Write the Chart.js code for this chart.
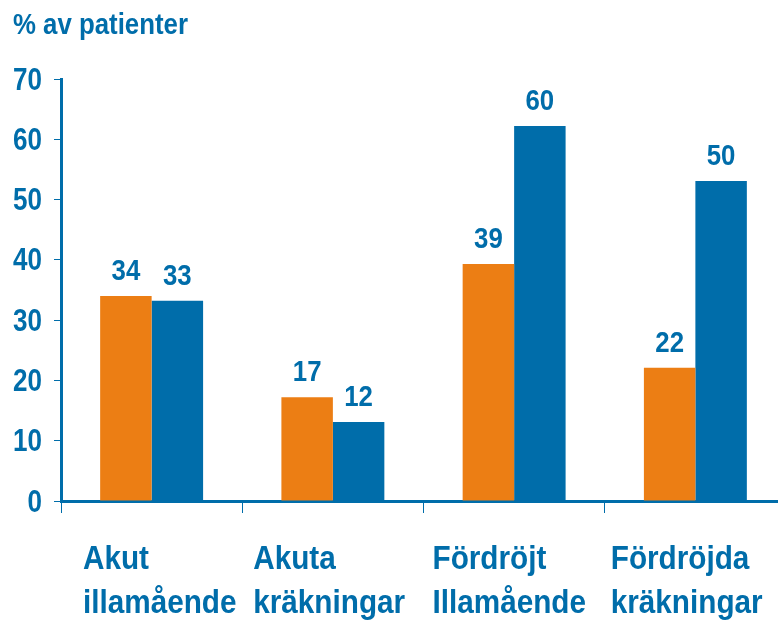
<!DOCTYPE html>
<html>
<head>
<meta charset="utf-8">
<script src="https://cdn.jsdelivr.net/npm/chart.js@4"></script>
<style>
  html, body { margin: 0; padding: 0; background: #fff; overflow: hidden; }
</style>
</head>
<body>
<canvas id="chart" width="790" height="623"></canvas>
<script>
const categories = [
  ['Akut', 'illamående'],
  ['Akuta', 'kräkningar'],
  ['Fördröjt', 'Illamående'],
  ['Fördröjda', 'kräkningar']
];
// bar heights as drawn, and the numbers printed above them
const orangeValues = [34, 17.2, 39.3, 22.1];
const blueValues = [33.2, 13.1, 62.2, 53.1];
const orangeLabels = ['34', '17', '39', '22'];
const blueLabels = ['33', '12', '60', '50'];
const yTicks = [0, 10, 20, 30, 40, 50, 60, 70];
const titleText = '% av patienter';

const BLUE = '#006daa';
const ORANGE = '#ec7e14';
const FONT = "'Liberation Sans', Arial, sans-serif";
// category label text boxes sit a little unevenly in the original
const labelInset = [22, 11, 9, 6];

// draw bold text squeezed horizontally (the original uses a narrow face)
function narrowText(ctx, text, x, y, size, align, squeeze) {
  ctx.save();
  ctx.font = 'bold ' + size + 'px ' + FONT;
  ctx.fillStyle = BLUE;
  ctx.textBaseline = 'alphabetic';
  ctx.textAlign = align;
  ctx.translate(x, y);
  ctx.scale(squeeze, 1);
  ctx.fillText(text, 0, 0);
  ctx.restore();
}

const textLayer = {
  id: 'textLayer',
  afterDraw(chart) {
    const ctx = chart.ctx;
    const x = chart.scales.x;
    const y = chart.scales.y;
    const area = chart.chartArea;

    narrowText(ctx, titleText, 13, 34, 30, 'left', 0.86);

    yTicks.forEach(v => {
      narrowText(ctx, String(v), area.left - 19, y.getPixelForValue(v) + 10.5, 31, 'right', 0.84);
    });

    [orangeLabels, blueLabels].forEach((arr, di) => {
      chart.getDatasetMeta(di).data.forEach((bar, i) => {
        narrowText(ctx, arr[i], bar.x, bar.y - 16, 30, 'center', 0.86);
      });
    });

    const step = x.getPixelForValue(1) - x.getPixelForValue(0);
    categories.forEach((lines, i) => {
      const left = x.getPixelForValue(i) - step / 2 + labelInset[i];
      lines.forEach((t, j) => narrowText(ctx, t, left, 569 + j * 44, 33, 'left', 0.9));
    });
  }
};

new Chart(document.getElementById('chart').getContext('2d'), {
  type: 'bar',
  data: {
    labels: categories,
    datasets: [
      { data: orangeValues, backgroundColor: ORANGE },
      { data: blueValues, backgroundColor: BLUE }
    ]
  },
  options: {
    responsive: false,
    animation: false,
    layout: { padding: { left: 13, right: 4, top: 79, bottom: 0 } },
    datasets: { bar: { categoryPercentage: 0.568, barPercentage: 1 } },
    plugins: {
      legend: { display: false },
      tooltip: { enabled: false },
      title: { display: false }
    },
    scales: {
      x: {
        grid: { drawOnChartArea: false, color: BLUE, tickLength: 12, lineWidth: 1 },
        border: { color: BLUE, width: 3 },
        ticks: { display: false },
        afterFit(scale) { scale.height = 122; }
      },
      y: {
        min: 0,
        max: 70,
        afterBuildTicks(scale) { scale.ticks = yTicks.map(v => ({ value: v })); },
        grid: { drawOnChartArea: false, color: BLUE, tickLength: 7, lineWidth: 1 },
        border: { color: BLUE, width: 3 },
        ticks: { display: false },
        afterFit(scale) { scale.width = 48; }
      }
    }
  },
  plugins: [textLayer]
});
</script>
</body>
</html>
